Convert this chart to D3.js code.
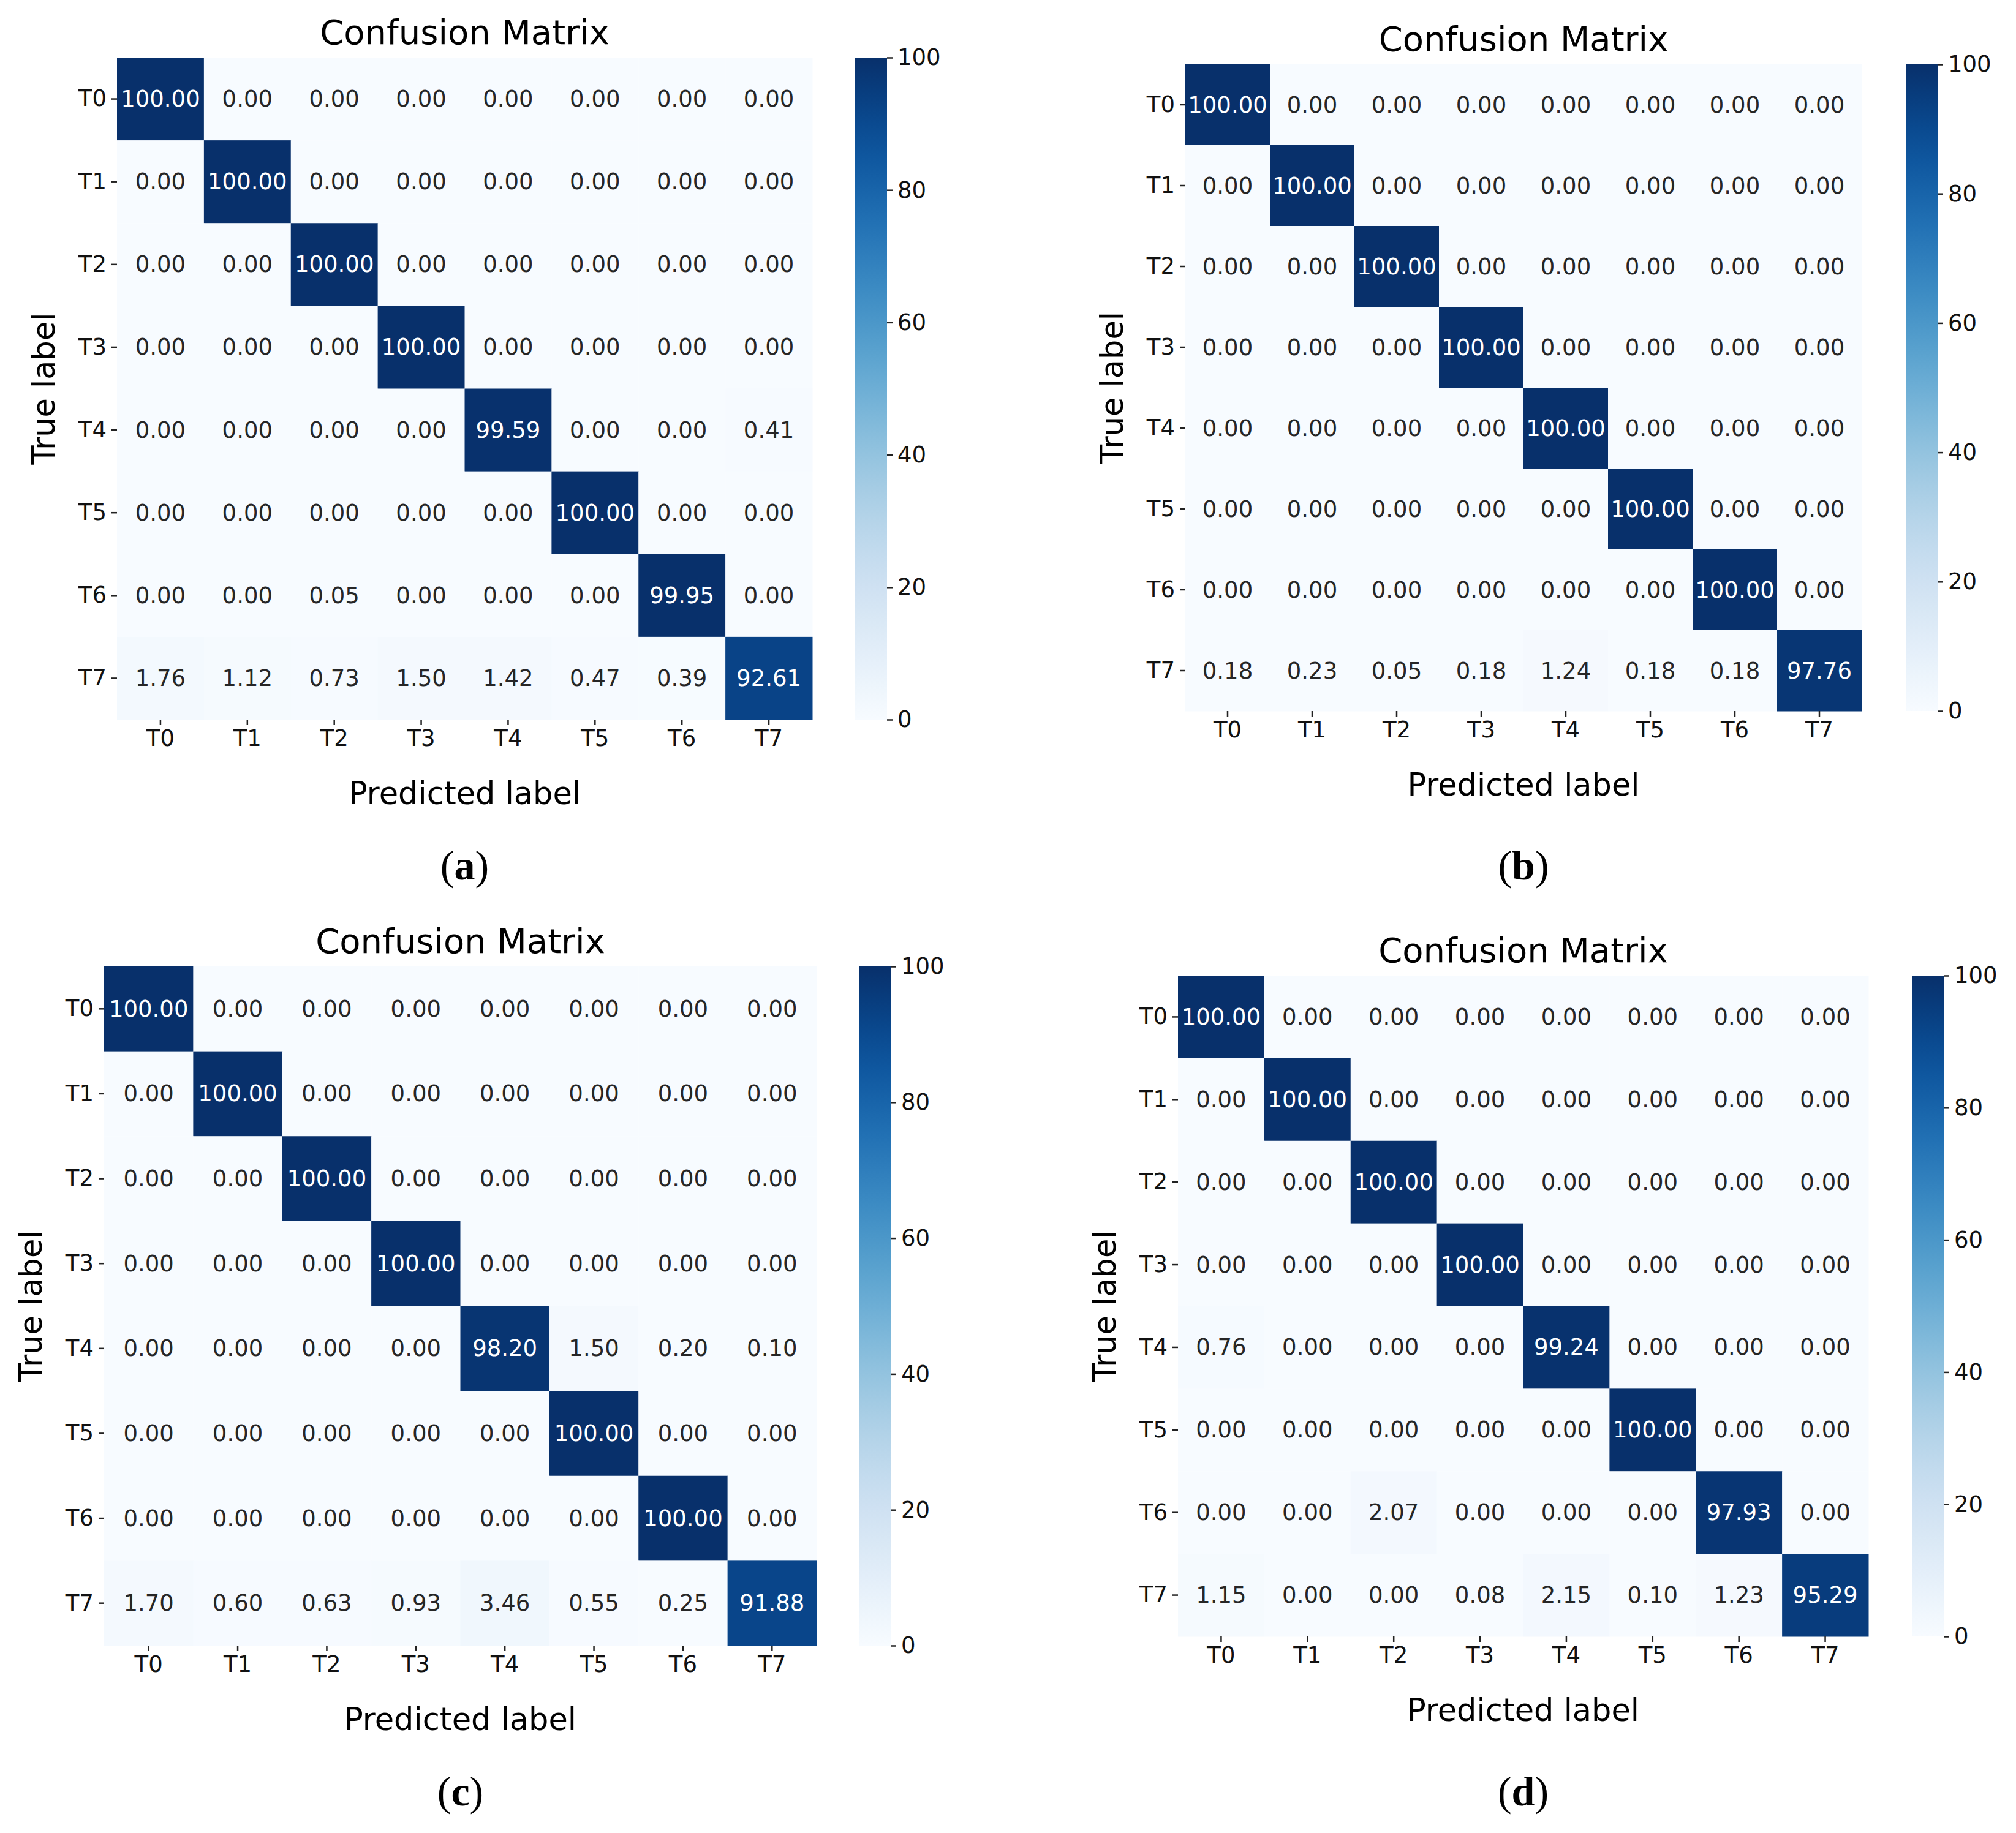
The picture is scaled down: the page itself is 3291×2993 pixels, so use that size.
<!DOCTYPE html>
<html><head><meta charset="utf-8">
<script src="https://cdn.jsdelivr.net/npm/d3@7"></script>
<style>body{margin:0;background:#fff}</style>
</head><body>
<svg id="chart" width="3291" height="2993"></svg>
<script>
const labels = ["T0","T1","T2","T3","T4","T5","T6","T7"];
const cbTicks = [0,20,40,60,80,100];
const captions = ["a","b","c","d"];

const matA = [
  [100,0,0,0,0,0,0,0],
  [0,100,0,0,0,0,0,0],
  [0,0,100,0,0,0,0,0],
  [0,0,0,100,0,0,0,0],
  [0,0,0,0,99.59,0,0,0.41],
  [0,0,0,0,0,100,0,0],
  [0,0,0.05,0,0,0,99.95,0],
  [1.76,1.12,0.73,1.50,1.42,0.47,0.39,92.61]
];
const matB = [
  [100,0,0,0,0,0,0,0],
  [0,100,0,0,0,0,0,0],
  [0,0,100,0,0,0,0,0],
  [0,0,0,100,0,0,0,0],
  [0,0,0,0,100,0,0,0],
  [0,0,0,0,0,100,0,0],
  [0,0,0,0,0,0,100,0],
  [0.18,0.23,0.05,0.18,1.24,0.18,0.18,97.76]
];
const matC = [
  [100,0,0,0,0,0,0,0],
  [0,100,0,0,0,0,0,0],
  [0,0,100,0,0,0,0,0],
  [0,0,0,100,0,0,0,0],
  [0,0,0,0,98.20,1.50,0.20,0.10],
  [0,0,0,0,0,100,0,0],
  [0,0,0,0,0,0,100,0],
  [1.70,0.60,0.63,0.93,3.46,0.55,0.25,91.88]
];
const matD = [
  [100,0,0,0,0,0,0,0],
  [0,100,0,0,0,0,0,0],
  [0,0,100,0,0,0,0,0],
  [0,0,0,100,0,0,0,0],
  [0.76,0,0,0,99.24,0,0,0],
  [0,0,0,0,0,100,0,0],
  [0,0,2.07,0,0,0,97.93,0],
  [1.15,0,0,0.08,2.15,0.10,1.23,95.29]
];

// layout of each panel (matrix box, colorbar x, caption y)
const panels = [
  {m: matA, x0:191, x1:1326, y0:94, y1:1175, cb:1396, cap:1413},
  {m: matB, x0:1935, x1:3039, y0:105, y1:1161, cb:3111, cap:1413},
  {m: matC, x0:170, x1:1333, y0:1578, y1:2687, cb:1402, cap:2925},
  {m: matD, x0:1923, x1:3050, y0:1593, y1:2672, cb:3121, cap:2925}
];

const svg = d3.select("#chart");
const color = d3.scaleSequential(d3.interpolateBlues).domain([0,100]);
const font = "'DejaVu Sans', sans-serif";

panels.forEach((p, pi) => {
  const g = svg.append("g");
  const x = d3.scaleBand().domain(labels).range([p.x0, p.x1]);
  const y = d3.scaleBand().domain(labels).range([p.y0, p.y1]);
  const cells = [];
  p.m.forEach((row, i) => row.forEach((v, j) => cells.push({r: labels[i], c: labels[j], v})));

  g.selectAll("rect.cell").data(cells).enter().append("rect")
    .attr("x", d => x(d.c)).attr("y", d => y(d.r))
    .attr("width", x.bandwidth() + 0.5).attr("height", y.bandwidth() + 0.5)
    .attr("fill", d => color(d.v));

  g.selectAll("text.cell").data(cells).enter().append("text")
    .attr("x", d => x(d.c) + x.bandwidth() / 2)
    .attr("y", d => y(d.r) + y.bandwidth() / 2)
    .attr("text-anchor", "middle").attr("dominant-baseline", "central")
    .style("font-family", font).style("font-size", "37px")
    .attr("fill", d => d.v > 50 ? "#fff" : "#262626")
    .text(d => d.v.toFixed(2));

  const xa = g.append("g").attr("transform", `translate(0,${p.y1})`)
    .call(d3.axisBottom(x).tickSize(9).tickPadding(8));
  const ya = g.append("g").attr("transform", `translate(${p.x0},0)`)
    .call(d3.axisLeft(y).tickSize(9).tickPadding(8));
  [xa, ya].forEach(a => {
    a.select(".domain").remove();
    a.selectAll("line").attr("stroke", "#222").attr("stroke-width", 2.5);
    a.selectAll("text").style("font-family", font).style("font-size", "37px").attr("fill", "#111");
  });

  const cx = (p.x0 + p.x1) / 2, cy = (p.y0 + p.y1) / 2;
  g.append("text").attr("x", cx).attr("y", p.y0 - 22).attr("text-anchor", "middle")
    .style("font-family", font).style("font-size", "56px").text("Confusion Matrix");
  g.append("text").attr("x", cx).attr("y", p.y1 + 138).attr("text-anchor", "middle")
    .style("font-family", font).style("font-size", "51px").text("Predicted label");
  g.append("text").attr("transform", `translate(${p.x0 - 102},${cy}) rotate(-90)`)
    .attr("text-anchor", "middle")
    .style("font-family", font).style("font-size", "51px").text("True label");

  // colorbar
  const gradId = "grad" + pi;
  const grad = svg.append("defs").append("linearGradient").attr("id", gradId)
    .attr("x1", 0).attr("y1", 1).attr("x2", 0).attr("y2", 0);
  d3.range(0, 101, 5).forEach(t => grad.append("stop").attr("offset", t + "%").attr("stop-color", color(t)));
  g.append("rect").attr("x", p.cb).attr("y", p.y0).attr("width", 52).attr("height", p.y1 - p.y0)
    .attr("fill", `url(#${gradId})`);
  const cs = d3.scaleLinear().domain([0,100]).range([p.y1, p.y0]);
  const ca = g.append("g").attr("transform", `translate(${p.cb + 52},0)`)
    .call(d3.axisRight(cs).tickValues(cbTicks).tickSize(9).tickPadding(8));
  ca.select(".domain").remove();
  ca.selectAll("line").attr("stroke", "#222").attr("stroke-width", 2.5);
  ca.selectAll("text").style("font-family", font).style("font-size", "37px").attr("fill", "#111");

  // caption
  const cap = g.append("text").attr("x", cx).attr("y", p.cap).attr("text-anchor", "middle")
    .attr("dominant-baseline", "central")
    .style("font-family", "'Liberation Serif', serif").style("font-size", "68px");
  cap.append("tspan").text("(");
  cap.append("tspan").style("font-weight", "bold").text(captions[pi]);
  cap.append("tspan").text(")");
});
</script>
</body></html>
